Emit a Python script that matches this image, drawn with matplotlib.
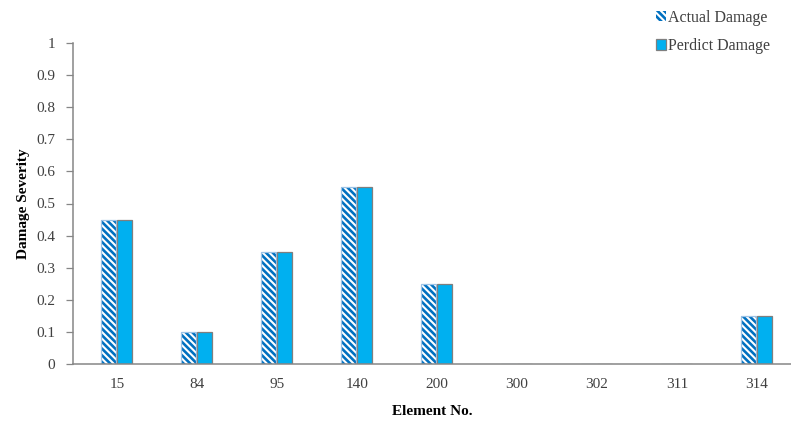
import matplotlib.pyplot as plt
import numpy as np
from matplotlib.patches import Patch

elements = ['15', '84', '95', '140', '200', '300', '302', '311', '314']
actual_damage = [0.45, 0.10, 0.35, 0.55, 0.25, 0.0, 0.0, 0.0, 0.15]
predict_damage = [0.448, 0.099, 0.348, 0.55, 0.25, 0.0, 0.0, 0.0, 0.149]
yticks = [0, 0.1, 0.2, 0.3, 0.4, 0.5, 0.6, 0.7, 0.8, 0.9, 1]
ytick_labels = ['0', '0.1', '0.2', '0.3', '0.4', '0.5', '0.6', '0.7', '0.8', '0.9', '1']

plt.rcParams['font.family'] = ['Liberation Serif', 'DejaVu Serif']
plt.rcParams['hatch.linewidth'] = 1.9

fig = plt.figure(figsize=(7.91, 4.26), dpi=100)
ax = fig.add_axes([73 / 791, 62 / 426, 718 / 791, 321 / 426])

x = np.arange(len(elements))
w = 0.19
hatch = '\\\\\\\\\\'
# hatch drawn in dark blue, outline in light blue on top
ax.bar(x - 0.11, actual_damage, w, facecolor='white', edgecolor='#0070C0',
       hatch=hatch, linewidth=0)
ax.bar(x - 0.11, actual_damage, w, facecolor='none', edgecolor='#9DC3E6',
       linewidth=0.9)
ax.bar(x + 0.09, predict_damage, w, facecolor='#00B0F0', edgecolor='#7F7F7F',
       linewidth=0.9)

ax.set_xlim(-0.55, -0.55 + 718 / 80.0)
ax.set_ylim(0, 1)
ax.set_xticks(x)
ax.set_xticklabels(elements)
ax.set_yticks(yticks)
ax.set_yticklabels(ytick_labels)
ax.tick_params(axis='x', length=0, labelsize=11, pad=10, colors='#404040')
ax.tick_params(axis='y', length=5, width=0.9, color='#868686', labelsize=11,
               pad=8, labelcolor='#404040')

for s in ['top', 'right']:
    ax.spines[s].set_visible(False)
for s in ['left', 'bottom']:
    ax.spines[s].set_color('#868686')
    ax.spines[s].set_linewidth(1.1)

ax.set_ylabel('Damage Severity', fontsize=11, fontweight='bold', labelpad=4)
ax.set_xlabel('Element No.', fontsize=11, fontweight='bold', labelpad=10)

handles = [Patch(facecolor='white', edgecolor='#0070C0', hatch=hatch, linewidth=0),
           Patch(facecolor='#00B0F0', edgecolor='#7F7F7F', linewidth=0.9)]
leg = fig.legend(handles, ['Actual Damage', 'Perdict Damage'], loc='upper left',
                 bbox_to_anchor=(646 / 791, 1.0), frameon=False,
                 fontsize=11.5, handlelength=0.65, handleheight=0.65,
                 handletextpad=0.15, labelspacing=0.8, borderaxespad=0.2)
for t in leg.get_texts():
    t.set_color('#404040')

plt.savefig('out.png', dpi=100)
